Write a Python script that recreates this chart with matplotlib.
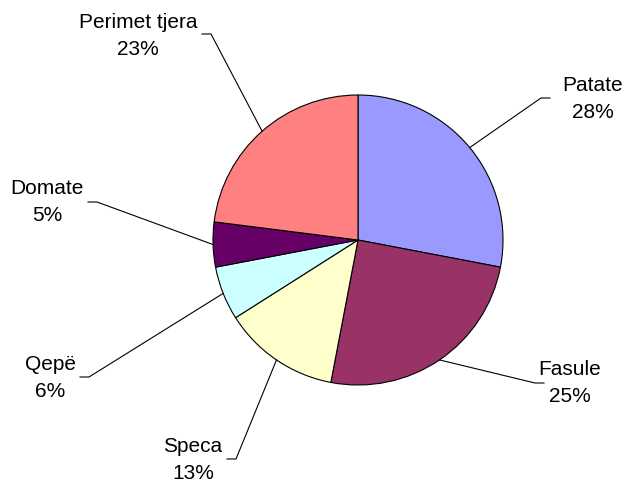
import matplotlib.pyplot as plt
import numpy as np

labels = ["Patate", "Fasule", "Speca", "Qepë", "Domate", "Perimet tjera"]
values = [28, 25, 13, 6, 5, 23]
colors = ["#9999FF", "#993366", "#FFFFCC", "#CCFFFF", "#660066", "#FF8080"]

# layout (pixels from top-left): label centre, end of the short tick
text_pos = [(593, 99), (570, 383), (193, 460), (50, 378), (47, 202), (138, 36)]
tick_end = [(550, 98), (535, 383), (227, 459), (80, 377), (97, 202), (202, 34)]
tick_side = [-1, 1, 1, 1, -1, 1]  # direction from tick_end toward elbow

W, H = 629, 486
cx, cy, R = 358, H - 240, 145

plt.rcParams['font.family'] = ['Liberation Sans', 'DejaVu Sans']
fig = plt.figure(figsize=(W / 100, H / 100), dpi=100)
ax = fig.add_axes([0, 0, 1, 1])

wedges, _ = ax.pie(values, colors=colors, startangle=90, counterclock=False,
                   center=(cx, cy), radius=R,
                   wedgeprops=dict(edgecolor='black', linewidth=0.8))
ax.set_xlim(0, W)
ax.set_ylim(0, H)
ax.set_aspect('equal')
ax.axis('off')

total = sum(values)
for w, lab, v, tp, te, sd in zip(wedges, labels, values, text_pos, tick_end, tick_side):
    ang = np.deg2rad((w.theta1 + w.theta2) / 2)
    ex, ey = cx + R * np.cos(ang), cy + R * np.sin(ang)
    x1, y1 = te[0], H - te[1]
    x2 = x1 + sd * 9
    # elbow is the tick point nearer the pie
    if abs(x1 - cx) < abs(x2 - cx):
        elbow, far = x1, x2
    else:
        elbow, far = x2, x1
    ax.plot([ex, elbow, far], [ey, y1, y1], color='black', linewidth=0.8)
    ax.text(tp[0], H - tp[1], f"{lab}\n{round(100 * v / total)}%",
            ha='center', va='center', fontsize=15, linespacing=1.55)

fig.savefig("out.png", dpi=100)
